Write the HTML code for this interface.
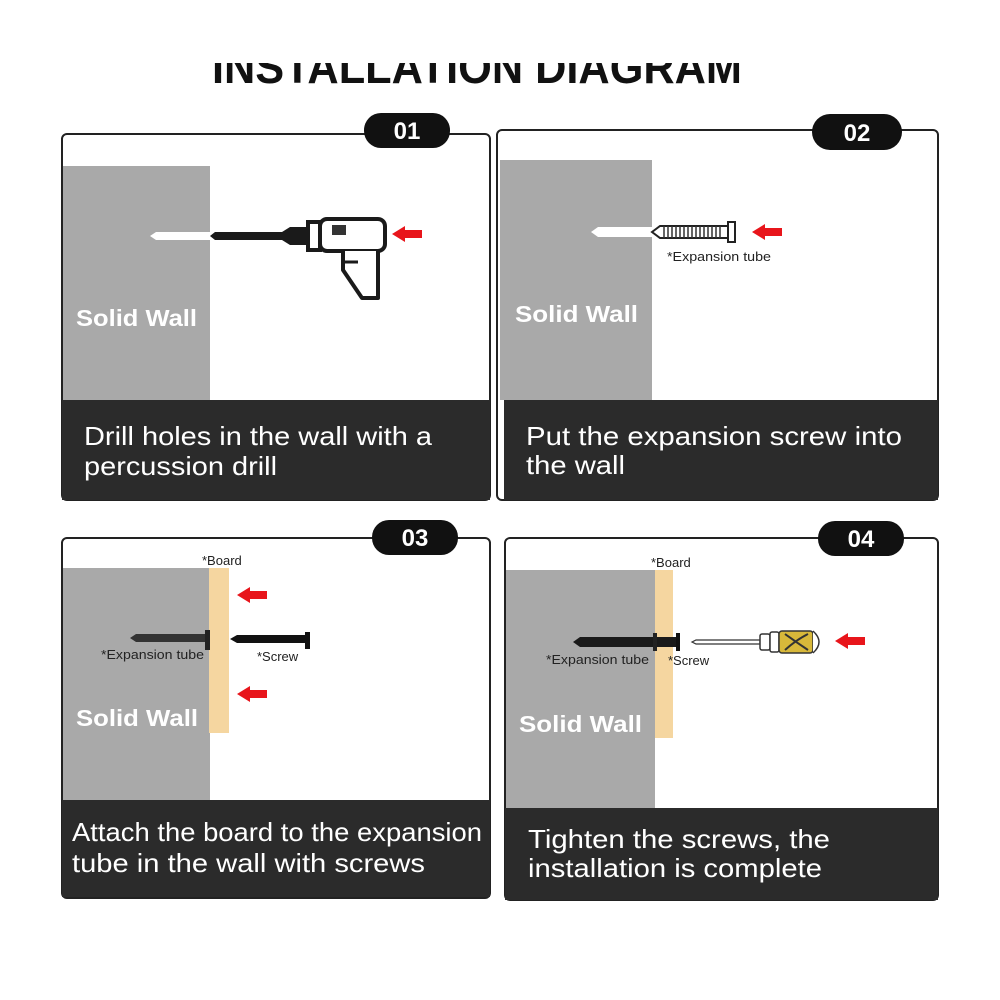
<!DOCTYPE html>
<html><head><meta charset="utf-8"><style>
html,body{margin:0;padding:0;background:#fff;width:1000px;height:1000px;overflow:hidden}
svg{display:block}
text{font-family:"Liberation Sans",Arial,sans-serif}
</style></head><body>
<svg width="1000" height="1000" viewBox="0 0 1000 1000" xmlns="http://www.w3.org/2000/svg">
<defs>
<g id="arr"><polygon points="0,0 13,-8 13,-4 30,-4 30,4 13,4 13,8" fill="#e8151b"/></g>
</defs>
<!-- title -->
<text x="477" y="83" font-size="46" font-weight="bold" text-anchor="middle" fill="#111" textLength="530" lengthAdjust="spacingAndGlyphs">INSTALLATION DIAGRAM</text>
<rect x="0" y="0" width="1000" height="63" fill="#fff"/>

<!-- Panel 1 -->
<rect x="62" y="134" width="428" height="366" rx="5" fill="#fff" stroke="#222" stroke-width="2"/>
<rect x="63" y="166" width="147" height="234" fill="#a9a9a9"/>
<rect x="62" y="400" width="428" height="100" fill="#2b2b2b"/>
<text x="76" y="326" font-size="23" font-weight="bold" fill="#fff" textLength="121" lengthAdjust="spacingAndGlyphs">Solid Wall</text>
<text x="84" y="445" font-size="26" fill="#fff" textLength="348" lengthAdjust="spacingAndGlyphs">Drill holes in the wall with a</text>
<text x="84" y="475" font-size="26" fill="#fff" textLength="193" lengthAdjust="spacingAndGlyphs">percussion drill</text>
<polygon points="150,236 156,232 210,232 210,240 156,240" fill="#fff"/>
<polygon points="210,236 215,232 282,232 290,227 310,227 310,245 290,245 282,240 215,240" fill="#1a1a1a"/>
<rect x="308" y="222" width="12" height="28" fill="#fff" stroke="#1a1a1a" stroke-width="4"/>
<rect x="320" y="219" width="65" height="32" rx="7" fill="#fff" stroke="#1a1a1a" stroke-width="4"/>
<rect x="332" y="225" width="14" height="10" fill="#333"/>
<path d="M343 251 L343 270 L362 298 L378 298 L378 251" fill="#fff" stroke="#1a1a1a" stroke-width="4" stroke-linejoin="round"/>
<path d="M343 262 L358 262" stroke="#1a1a1a" stroke-width="3"/>
<use href="#arr" x="392" y="234"/>
<rect x="364" y="113" width="86" height="35" rx="17" fill="#111"/>
<text x="407" y="139" font-size="24" font-weight="bold" fill="#fff" text-anchor="middle">01</text>

<!-- Panel 2 -->
<rect x="497" y="130" width="441" height="370" rx="5" fill="#fff" stroke="#222" stroke-width="2"/>
<rect x="500" y="160" width="152" height="240" fill="#a9a9a9"/>
<rect x="504" y="400" width="434" height="100" fill="#2b2b2b"/>
<text x="515" y="322" font-size="23" font-weight="bold" fill="#fff" textLength="123" lengthAdjust="spacingAndGlyphs">Solid Wall</text>
<text x="526" y="445" font-size="26" fill="#fff" textLength="376" lengthAdjust="spacingAndGlyphs">Put the expansion screw into</text>
<text x="526" y="474" font-size="26" fill="#fff" textLength="99" lengthAdjust="spacingAndGlyphs">the wall</text>
<polygon points="591,232 598,227 652,227 652,237 598,237" fill="#fff"/>
<polygon points="652,232 660,226 728,226 728,238 660,238" fill="#fff" stroke="#222" stroke-width="2"/>
<path d="M664 226 V238 M668 226 V238 M672 226 V238 M676 226 V238 M680 226 V238 M684 226 V238 M688 226 V238 M692 226 V238 M696 226 V238 M700 226 V238 M704 226 V238 M708 226 V238 M712 226 V238 M716 226 V238 M720 226 V238" stroke="#333" stroke-width="1.5"/>
<rect x="728" y="222" width="7" height="20" fill="#fff" stroke="#222" stroke-width="2"/>
<use href="#arr" x="752" y="232"/>
<text x="667" y="261" font-size="13" fill="#222" textLength="104" lengthAdjust="spacingAndGlyphs">*Expansion tube</text>
<rect x="812" y="114" width="90" height="36" rx="18" fill="#111"/>
<text x="857" y="141" font-size="24" font-weight="bold" fill="#fff" text-anchor="middle">02</text>

<!-- Panel 3 -->
<rect x="62" y="538" width="428" height="360" rx="5" fill="#fff" stroke="#222" stroke-width="2"/>
<rect x="63" y="568" width="147" height="232" fill="#a9a9a9"/>
<rect x="209" y="568" width="20" height="165" fill="#f5d6a0"/>
<rect x="62" y="800" width="428" height="97" fill="#2b2b2b"/>
<text x="76" y="726" font-size="23" font-weight="bold" fill="#fff" textLength="122" lengthAdjust="spacingAndGlyphs">Solid Wall</text>
<text x="72" y="841" font-size="26" fill="#fff" textLength="410" lengthAdjust="spacingAndGlyphs">Attach the board to the expansion</text>
<text x="72" y="872" font-size="26" fill="#fff" textLength="353" lengthAdjust="spacingAndGlyphs">tube in the wall with screws</text>
<text x="202" y="565" font-size="13" fill="#222">*Board</text>
<polygon points="130,638 136,634 205,634 205,642 136,642" fill="#333"/>
<rect x="205" y="630" width="5" height="20" fill="#222"/>
<polygon points="230,639 237,635 305,635 305,643 237,643" fill="#111"/>
<rect x="305" y="632" width="5" height="17" fill="#111"/>
<text x="101" y="659" font-size="13" fill="#222" textLength="103" lengthAdjust="spacingAndGlyphs">*Expansion tube</text>
<text x="257" y="661" font-size="13" fill="#222">*Screw</text>
<use href="#arr" x="237" y="595"/>
<use href="#arr" x="237" y="694"/>
<rect x="372" y="520" width="86" height="35" rx="17" fill="#111"/>
<text x="415" y="546" font-size="24" font-weight="bold" fill="#fff" text-anchor="middle">03</text>

<!-- Panel 4 -->
<rect x="505" y="538" width="433" height="362" rx="5" fill="#fff" stroke="#222" stroke-width="2"/>
<rect x="506" y="570" width="149" height="238" fill="#a9a9a9"/>
<rect x="655" y="570" width="18" height="168" fill="#f5d6a0"/>
<rect x="505" y="808" width="433" height="92" fill="#2b2b2b"/>
<text x="519" y="732" font-size="23" font-weight="bold" fill="#fff" textLength="123" lengthAdjust="spacingAndGlyphs">Solid Wall</text>
<text x="528" y="848" font-size="26" fill="#fff" textLength="302" lengthAdjust="spacingAndGlyphs">Tighten the screws, the</text>
<text x="528" y="877" font-size="26" fill="#fff" textLength="294" lengthAdjust="spacingAndGlyphs">installation is complete</text>
<text x="651" y="567" font-size="13" fill="#222">*Board</text>
<polygon points="573,642 580,637 676,637 676,647 580,647" fill="#1a1a1a"/>
<rect x="653" y="633" width="4" height="18" fill="#222"/>
<rect x="676" y="633" width="4" height="18" fill="#111"/>
<text x="546" y="664" font-size="13" fill="#222" textLength="103" lengthAdjust="spacingAndGlyphs">*Expansion tube</text>
<text x="668" y="665" font-size="13" fill="#222">*Screw</text>
<polygon points="692,642 696,640 760,640 760,644 696,644" fill="#fff" stroke="#333" stroke-width="1.2"/>
<rect x="760" y="634" width="10" height="16" rx="2" fill="#fff" stroke="#333" stroke-width="1.5"/>
<rect x="770" y="632" width="9" height="20" rx="2" fill="#fff" stroke="#333" stroke-width="1.5"/>
<rect x="779" y="631" width="34" height="22" rx="3" fill="#d8b83a" stroke="#333" stroke-width="1.5"/>
<path d="M785 634 Q796 642 808 650 M785 650 Q796 640 808 634" stroke="#333" stroke-width="2" fill="none"/>
<path d="M813 631 Q825 642 813 653" fill="#fff" stroke="#333" stroke-width="1.5"/>
<use href="#arr" x="835" y="641"/>
<rect x="818" y="521" width="86" height="35" rx="17" fill="#111"/>
<text x="861" y="547" font-size="24" font-weight="bold" fill="#fff" text-anchor="middle">04</text>
</svg>
</body></html>
